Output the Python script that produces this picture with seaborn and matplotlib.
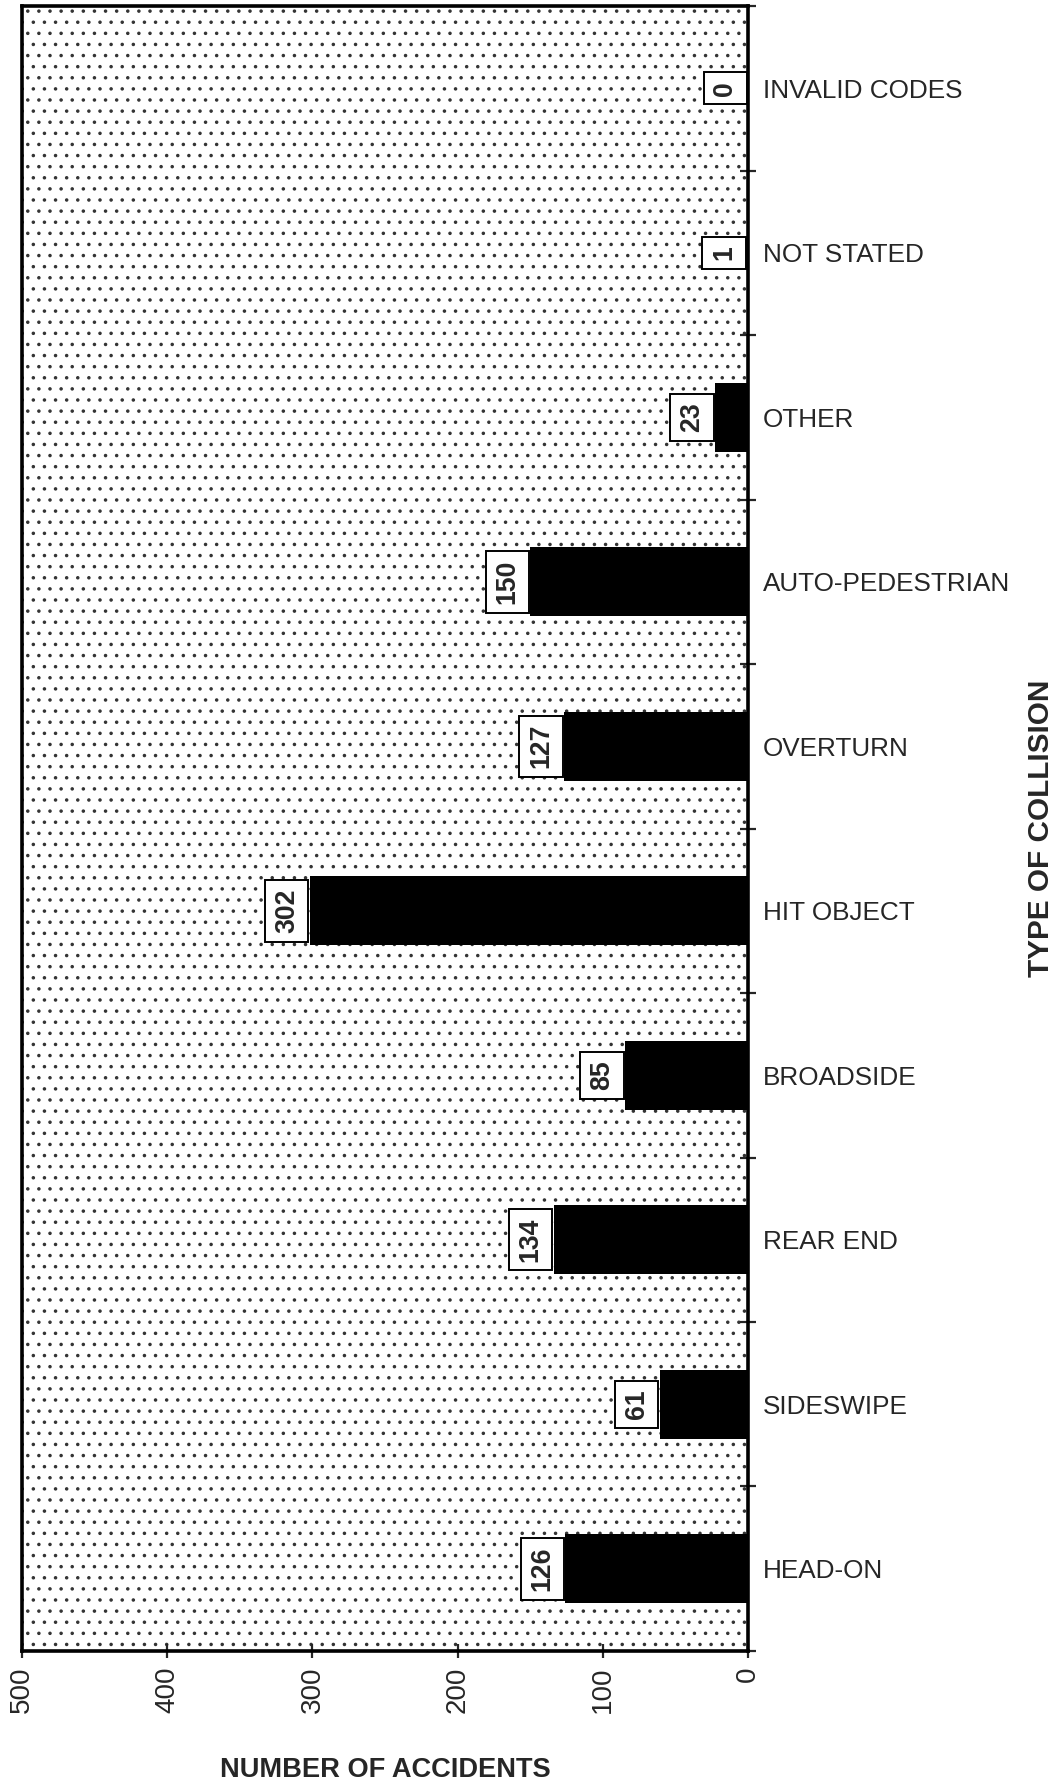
import matplotlib
matplotlib.use('Agg')
import matplotlib.pyplot as plt
import seaborn as sns
import pandas as pd
from matplotlib.patches import Rectangle

# --- DADOS ---
collision_types = ['INVALID CODES', 'NOT STATED', 'OTHER', 'AUTO-PEDESTRIAN', 'OVERTURN',
                   'HIT OBJECT', 'BROADSIDE', 'REAR END', 'SIDESWIPE', 'HEAD-ON']
accidents = [0, 1, 23, 150, 127, 302, 85, 134, 61, 126]
x_ticks = [0, 100, 200, 300, 400, 500]

# --- CONFIGURAÇÃO ---
sns.set_style('ticks')
plt.rcParams['font.family'] = ['Liberation Sans', 'DejaVu Sans']
plt.rcParams['hatch.linewidth'] = 0.45

df = pd.DataFrame({'tipo': collision_types, 'acidentes': accidents})

fig = plt.figure(figsize=(5.3, 8.93), dpi=200)
ax = fig.add_axes([0.0208, 0.0756, 0.685, 0.921])

# fundo pontilhado
ax.add_patch(Rectangle((0, 0), 1, 1, transform=ax.transAxes, facecolor='white',
                       edgecolor='#333333', lw=0, hatch='...', zorder=0))

sns.barplot(data=df, x='acidentes', y='tipo', orient='h', color='black',
            saturation=1, width=0.42, linewidth=0, ax=ax, zorder=2)

ax.set_xlim(500, 0)
ax.set_ylim(9.5, -0.5)

for side in ['left', 'right', 'top', 'bottom']:
    ax.spines[side].set_linewidth(1.3)
    ax.spines[side].set_color('black')

# eixo x
ax.set_xticks(x_ticks)
ax.set_xticklabels([str(t) for t in x_ticks])
ax.tick_params(axis='x', direction='inout', length=5, width=0.8, labelsize=10,
               labelrotation=90, pad=3)

# eixo y à direita, marcas entre as categorias
ax.yaxis.tick_right()
ax.set_yticks(range(len(collision_types)))
ax.set_yticklabels(collision_types)
ax.set_yticks([i + 0.5 for i in range(-1, len(collision_types))], minor=True)
ax.tick_params(axis='y', which='major', length=0, pad=5.4, labelsize=9.4)
ax.tick_params(axis='y', which='minor', right=True, left=False, direction='inout',
               length=5.8, width=0.8)

# rótulos dos eixos
ax.set_xlabel('NUMBER OF ACCIDENTS', fontsize=9.8, fontweight='bold')
ax.xaxis.set_label_coords(0.5, -0.0805)
ax.xaxis.label.set_va('bottom')

ax.yaxis.set_label_position('right')
ax.set_ylabel('TYPE OF COLLISION', fontsize=10.7, fontweight='bold', rotation=90)
ax.yaxis.set_label_coords(1.404, 0.5)
ax.yaxis.label.set_va('center')

# valores em caixas
for i, v in enumerate(accidents):
    ax.annotate(str(v), xy=(v, i), xytext=(-3.5, 0), textcoords='offset points',
                ha='right', va='center', rotation=90, fontsize=9.6, fontweight='bold',
                bbox=dict(boxstyle='square,pad=0.32', fc='white', ec='black', lw=0.7),
                zorder=4)

fig.savefig('out.png', dpi=200)
